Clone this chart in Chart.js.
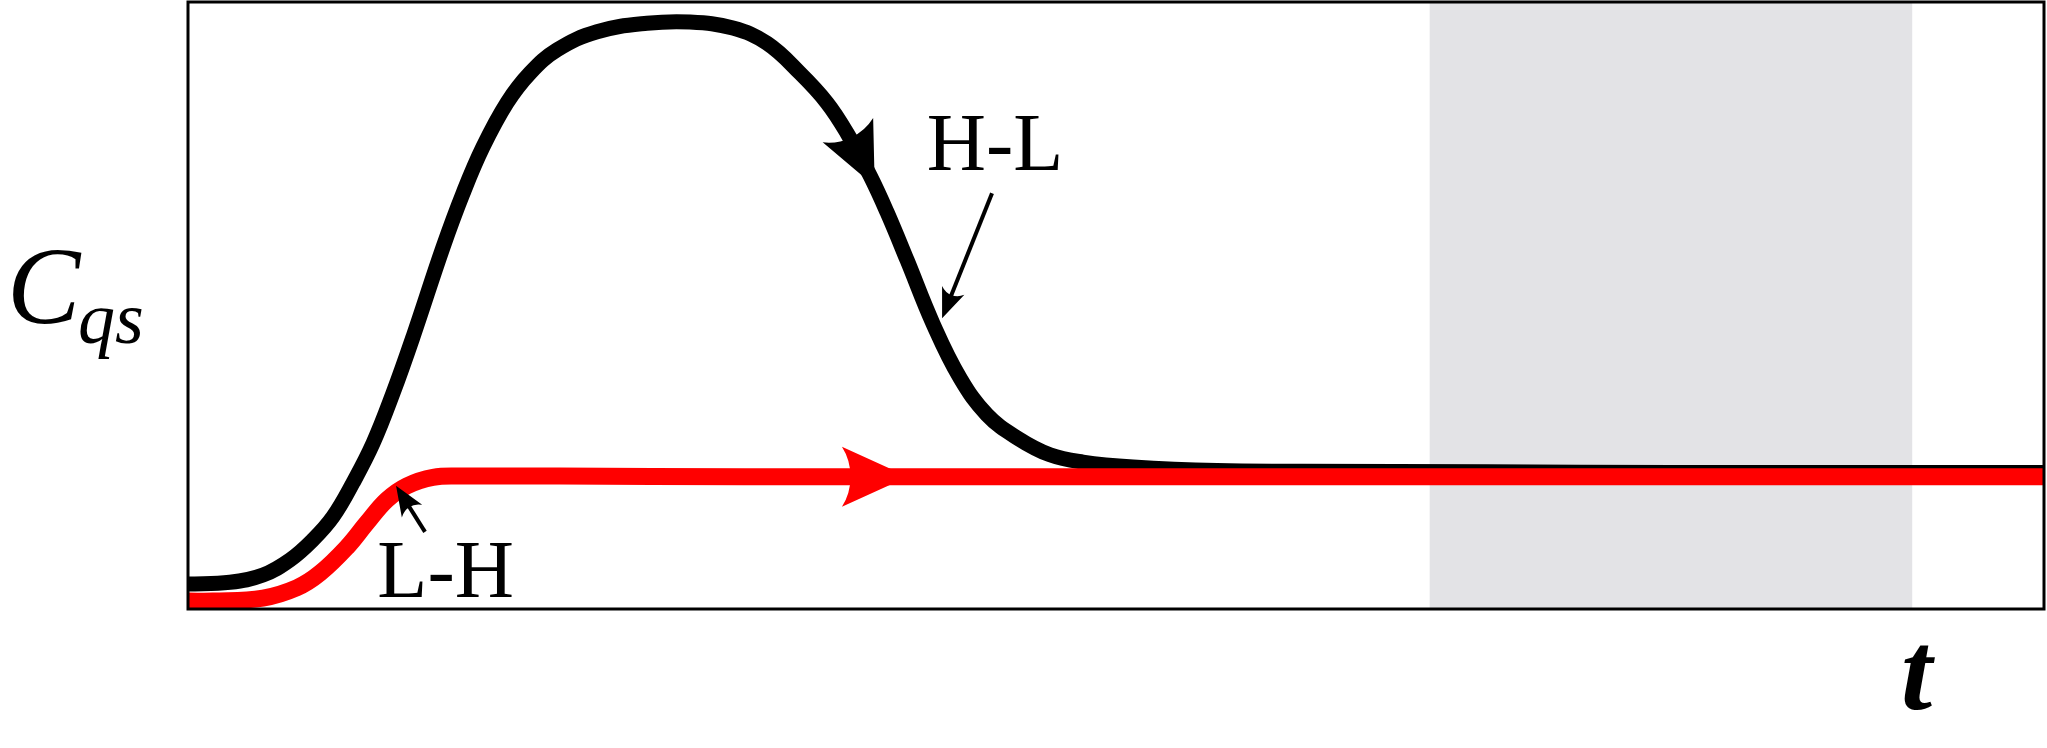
<!DOCTYPE html>
<html>
<head>
<meta charset="utf-8">
<script src="https://cdn.jsdelivr.net/npm/chart.js@4.4.1/dist/chart.umd.min.js"></script>
<style>
    html, body { margin: 0; padding: 0; background: #ffffff; }
</style>
</head>
<body>
<canvas id="chart" width="2047" height="748"></canvas>
<script>
// ===============================
// DATA (arbitrary units 0..100)
// ===============================
const tBlack = [0, 2.26, 4.04, 5.50, 6.73, 7.81, 8.89, 9.97, 11.05, 12.12, 13.74, 14.82, 15.89, 17.19, 18.43, 19.88,
    22.04, 24.73, 27.05, 29.36, 31.20, 32.97, 34.43, 35.51, 36.75, 37.66, 38.74, 40.14, 41.59, 43.05, 44.67,
    46.44, 48.22, 50.92, 55.44, 60, 70, 80, 90, 100];
const cBlack = [4.1, 4.4, 5.6, 8.1, 11.4, 15.2, 20.8, 27.3, 35.6, 44.8, 59.6, 68.5, 76.1, 83.4, 88.3, 92.1,
    95.1, 96.5, 96.7, 95.7, 93.2, 88.3, 83.4, 78.4, 71.4, 65.4, 57.5, 47.0, 38.1, 32.0, 28.2,
    25.4, 24.2, 23.4, 22.8, 22.7, 22.6, 22.5, 22.5, 22.5];

const tRed = [0, 1.35, 4.04, 5.87, 7.11, 8.57, 9.64, 10.72, 11.80, 13.20, 14.82, 20, 30, 40, 50, 60, 70, 80, 90, 100];
const cRed = [1.3, 1.3, 1.8, 3.5, 5.9, 10.2, 14.2, 18.0, 20.3, 21.7, 21.9, 21.9, 21.8, 21.8, 21.8, 21.8, 21.8, 21.8, 21.8, 21.8];

const shadeRange = [66.9, 92.9];

const xTitle = "t";
const yTitle = "C";
const yTitleSub = "qs";

// annotations (data coords)
const notes = [
    { text: "H-L", x: 39.8, y: 72.3 },
    { text: "L-H", x: 10.2, y: 2.0 }
];
const pointers = [
    { from: [43.32, 68.5], to: [40.63, 47.9] },
    { from: [12.77, 12.7], to: [11.21, 20.3] }
];
// arrowheads sitting on the curves
const curveHeads = [
    { dataset: 1, t: 37.0, len: 62, half: 28, color: "#000000" },
    { dataset: 0, t: 38.79, len: 66, half: 30, color: "#ff0000" }
];

const toPoints = (xs, ys) => xs.map((x, i) => ({ x: x, y: ys[i] }));

// ===============================
// DRAW HELPERS
// ===============================
function drawHead(ctx, tx, ty, ux, uy, len, half, notch) {
    const nx = -uy, ny = ux;
    const bx = tx - ux * len, by = ty - uy * len;
    const kx = bx + ux * notch, ky = by + uy * notch;
    ctx.beginPath();
    ctx.moveTo(tx, ty);
    ctx.lineTo(bx + nx * half, by + ny * half);
    ctx.quadraticCurveTo(kx + nx * half * 0.55, ky + ny * half * 0.55, kx, ky);
    ctx.quadraticCurveTo(kx - nx * half * 0.55, ky - ny * half * 0.55, bx - nx * half, by - ny * half);
    ctx.closePath();
    ctx.fill();
}

function pointOnCurve(meta, px) {
    const p = meta.dataset.interpolate({ x: px }, "x");
    if (p && !Array.isArray(p)) return p;
    const pts = meta.data;
    for (let i = 1; i < pts.length; i++) {
        if (pts[i].x >= px) {
            const f = (px - pts[i - 1].x) / (pts[i].x - pts[i - 1].x);
            return { x: px, y: pts[i - 1].y + f * (pts[i].y - pts[i - 1].y) };
        }
    }
    return pts[pts.length - 1];
}

const figurePlugin = {
    id: "figure",
    beforeDatasetsDraw(chart) {
        const { ctx, chartArea: a, scales: { x } } = chart;
        const x0 = x.getPixelForValue(shadeRange[0]);
        const x1 = x.getPixelForValue(shadeRange[1]);
        ctx.save();
        ctx.fillStyle = "#e3e3e6";
        ctx.fillRect(x0, a.top, x1 - x0, a.bottom - a.top);
        ctx.restore();
    },
    afterDatasetsDraw(chart) {
        const { ctx, chartArea: a, scales: { x, y } } = chart;
        ctx.save();

        // arrowheads on curves
        curveHeads.forEach(h => {
            const meta = chart.getDatasetMeta(h.dataset);
            const px = x.getPixelForValue(h.t);
            const tip = pointOnCurve(meta, px);
            const p0 = pointOnCurve(meta, px - 3);
            const p1 = pointOnCurve(meta, px + 3);
            let dx = p1.x - p0.x, dy = p1.y - p0.y;
            const d = Math.hypot(dx, dy);
            ctx.fillStyle = h.color;
            drawHead(ctx, tip.x, tip.y, dx / d, dy / d, h.len, h.half, h.len * 0.13);
        });

        // thin pointer arrows
        ctx.strokeStyle = "#000000";
        ctx.fillStyle = "#000000";
        ctx.lineWidth = 4;
        pointers.forEach(p => {
            const sx = x.getPixelForValue(p.from[0]), sy = y.getPixelForValue(p.from[1]);
            const ex = x.getPixelForValue(p.to[0]), ey = y.getPixelForValue(p.to[1]);
            const d = Math.hypot(ex - sx, ey - sy);
            const ux = (ex - sx) / d, uy = (ey - sy) / d;
            ctx.beginPath();
            ctx.moveTo(sx, sy);
            ctx.lineTo(ex - ux * 24, ey - uy * 24);
            ctx.stroke();
            drawHead(ctx, ex, ey, ux, uy, 30, 12, 5);
        });

        // text notes
        ctx.font = "82px 'Liberation Serif', 'DejaVu Serif', serif";
        ctx.textBaseline = "alphabetic";
        ctx.textAlign = "left";
        notes.forEach(n => {
            ctx.fillText(n.text, x.getPixelForValue(n.x), y.getPixelForValue(n.y));
        });

        // axis titles
        ctx.font = "italic 110px 'Liberation Serif', serif";
        const yb = y.getPixelForValue(47.1);
        ctx.fillText(yTitle, a.left - 181, yb);
        ctx.font = "italic 74px 'Liberation Serif', serif";
        ctx.fillText(yTitleSub, a.left - 110, yb + 20);
        ctx.font = "italic bold 112px 'Liberation Serif', serif";
        ctx.fillText(xTitle, x.getPixelForValue(92.3), a.bottom + 100);

        // frame
        ctx.lineWidth = 3;
        ctx.strokeStyle = "#000000";
        ctx.strokeRect(a.left, a.top, a.right - a.left, a.bottom - a.top);
        ctx.restore();
    }
};

new Chart(document.getElementById("chart").getContext("2d"), {
    type: "line",
    data: {
        datasets: [
            {
                label: "L-H",
                data: toPoints(tRed, cRed),
                borderColor: "#ff0000",
                borderWidth: 17,
                pointRadius: 0,
                tension: 0.4,
                borderCapStyle: "butt",
                order: 1,
                clip: 2
            },
            {
                label: "H-L",
                data: toPoints(tBlack, cBlack),
                borderColor: "#000000",
                borderWidth: 15,
                pointRadius: 0,
                tension: 0.4,
                borderCapStyle: "butt",
                order: 2,
                clip: 2
            }
        ]
    },
    options: {
        responsive: false,
        animation: false,
        events: [],
        layout: { padding: { left: 188, right: 3, top: 2, bottom: 139 } },
        scales: {
            x: { type: "linear", min: 0, max: 100, display: false },
            y: { type: "linear", min: 0, max: 100, display: false }
        },
        plugins: {
            legend: { display: false },
            tooltip: { enabled: false }
        }
    },
    plugins: [figurePlugin]
});
</script>
</body>
</html>
